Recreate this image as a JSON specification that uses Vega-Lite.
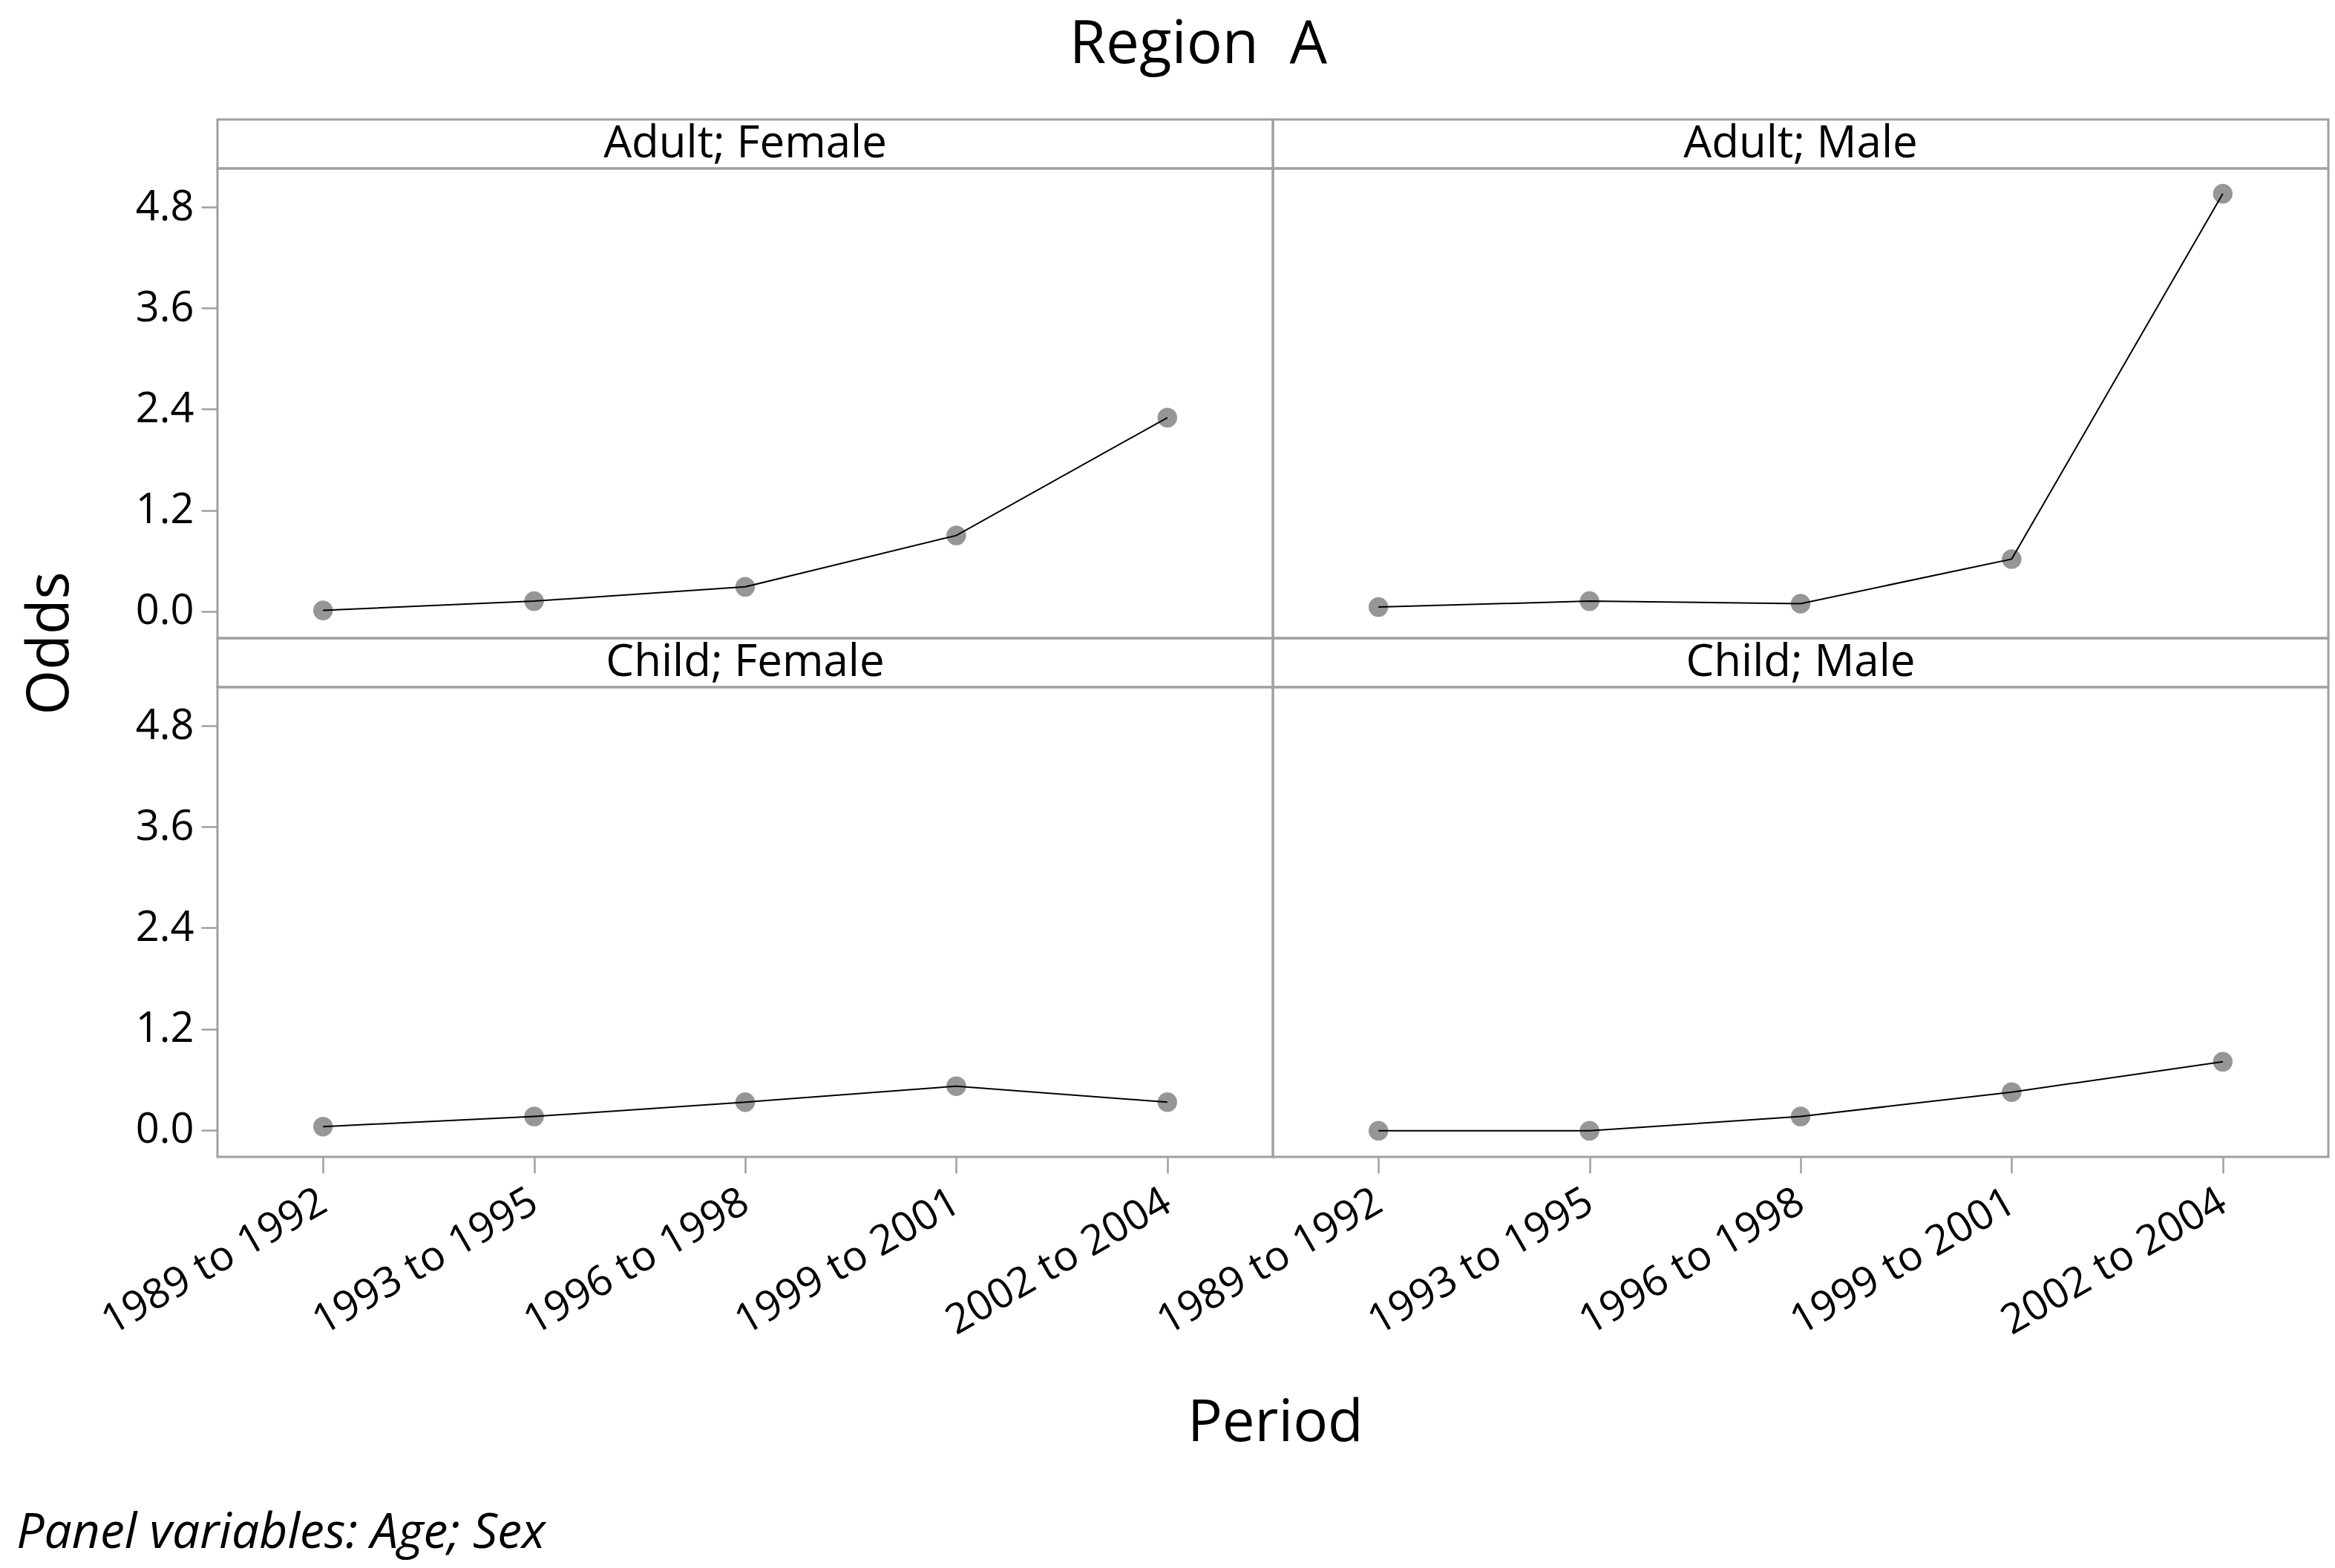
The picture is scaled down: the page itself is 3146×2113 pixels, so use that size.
{
  "$schema": "https://vega.github.io/schema/vega-lite/v6.json",
  "background": "white",
  "padding": {"left": 22, "top": 20, "right": 10, "bottom": 10},
  "config": {
    "font": "Open Sans",
    "view": {"stroke": "#a0a0a0", "strokeWidth": 3},
    "axis": {
      "domain": false,
      "grid": false,
      "ticks": true,
      "tickColor": "#a0a0a0",
      "tickWidth": 2.5,
      "tickSize": 22,
      "labelFont": "Open Sans",
      "labelFontSize": 56,
      "labelColor": "black",
      "labelPadding": 10,
      "labelLimit": 0
    },
    "title": {"font": "Open Sans", "color": "black", "fontWeight": "normal"}
  },
  "datasets": {
    "odds": [
      {"panel": "Adult; Female", "period": "1989 to 1992", "odds": 0.01},
      {"panel": "Adult; Female", "period": "1993 to 1995", "odds": 0.12},
      {"panel": "Adult; Female", "period": "1996 to 1998", "odds": 0.29},
      {"panel": "Adult; Female", "period": "1999 to 2001", "odds": 0.9},
      {"panel": "Adult; Female", "period": "2002 to 2004", "odds": 2.3},
      {"panel": "Adult; Male", "period": "1989 to 1992", "odds": 0.05},
      {"panel": "Adult; Male", "period": "1993 to 1995", "odds": 0.12},
      {"panel": "Adult; Male", "period": "1996 to 1998", "odds": 0.09},
      {"panel": "Adult; Male", "period": "1999 to 2001", "odds": 0.62},
      {"panel": "Adult; Male", "period": "2002 to 2004", "odds": 4.96},
      {"panel": "Child; Female", "period": "1989 to 1992", "odds": 0.04},
      {"panel": "Child; Female", "period": "1993 to 1995", "odds": 0.16},
      {"panel": "Child; Female", "period": "1996 to 1998", "odds": 0.33},
      {"panel": "Child; Female", "period": "1999 to 2001", "odds": 0.52},
      {"panel": "Child; Female", "period": "2002 to 2004", "odds": 0.33},
      {"panel": "Child; Male", "period": "1989 to 1992", "odds": -0.01},
      {"panel": "Child; Male", "period": "1993 to 1995", "odds": -0.01},
      {"panel": "Child; Male", "period": "1996 to 1998", "odds": 0.16},
      {"panel": "Child; Male", "period": "1999 to 2001", "odds": 0.45},
      {"panel": "Child; Male", "period": "2002 to 2004", "odds": 0.81}
    ],
    "panels": [
      {"panel": "Adult; Female"},
      {"panel": "Adult; Male"},
      {"panel": "Child; Female"},
      {"panel": "Child; Male"}
    ]
  },
  "title": {"text": "Region\u00a0 A", "fontSize": 80, "anchor": "middle", "offset": 58, "dx": 34},
  "vconcat": [
    {
      "title": {"text": "Panel variables: Age; Sex", "orient": "bottom", "anchor": "start", "fontSize": 66, "fontStyle": "italic", "offset": 76, "dx": -8},
      "vconcat": [
        {
          "title": {"text": "Period", "orient": "bottom", "anchor": "middle", "fontSize": 78, "offset": 70, "dx": 134},
          "vconcat": [
            {
              "title": {"text": "Odds", "orient": "left", "anchor": "middle", "fontSize": 78, "offset": 18, "dx": 118},
              "columns": 2,
              "spacing": 0,
              "bounds": "flush",
              "concat": [
                {
                  "width": 1422, "height": 66,
                  "data": {"name": "panels"},
                  "transform": [{"filter": "datum.panel === 'Adult; Female'"}],
                  "mark": {"type": "text", "fontSize": 60, "font": "Open Sans", "color": "black"},
                  "encoding": {
                    "x": {"field": "panel", "type": "nominal", "axis": null},
                    "y": {"field": "panel", "type": "nominal", "axis": null},
                    "text": {"field": "panel", "type": "nominal"}
                  }
                },
                {
                  "width": 1422, "height": 66,
                  "data": {"name": "panels"},
                  "transform": [{"filter": "datum.panel === 'Adult; Male'"}],
                  "mark": {"type": "text", "fontSize": 60, "font": "Open Sans", "color": "black"},
                  "encoding": {
                    "x": {"field": "panel", "type": "nominal", "axis": null},
                    "y": {"field": "panel", "type": "nominal", "axis": null},
                    "text": {"field": "panel", "type": "nominal"}
                  }
                },
                {
                  "width": 1422, "height": 633,
                  "data": {"name": "odds"},
                  "transform": [{"filter": "datum.panel === 'Adult; Female'"}],
                  "encoding": {
                    "x": {"field": "period", "type": "ordinal", "scale": {"type": "point", "padding": 0.5, "domain": ["1989 to 1992", "1993 to 1995", "1996 to 1998", "1999 to 2001", "2002 to 2004"]}, "axis": null},
                    "y": {"field": "odds", "type": "quantitative", "scale": {"domain": [-0.32, 5.26], "nice": false, "zero": false}, "axis": {"title": null, "values": [0, 1.2, 2.4, 3.6, 4.8], "format": ".1f"}}
                  },
                  "layer": [
                    {"mark": {"type": "point", "filled": true, "size": 700, "color": "#969696", "opacity": 1}},
                    {"mark": {"type": "line", "color": "black", "strokeWidth": 2}}
                  ]
                },
                {
                  "width": 1422, "height": 633,
                  "data": {"name": "odds"},
                  "transform": [{"filter": "datum.panel === 'Adult; Male'"}],
                  "encoding": {
                    "x": {"field": "period", "type": "ordinal", "scale": {"type": "point", "padding": 0.5, "domain": ["1989 to 1992", "1993 to 1995", "1996 to 1998", "1999 to 2001", "2002 to 2004"]}, "axis": null},
                    "y": {"field": "odds", "type": "quantitative", "scale": {"domain": [-0.32, 5.26], "nice": false, "zero": false}, "axis": null}
                  },
                  "layer": [
                    {"mark": {"type": "point", "filled": true, "size": 700, "color": "#969696", "opacity": 1}},
                    {"mark": {"type": "line", "color": "black", "strokeWidth": 2}}
                  ]
                },
                {
                  "width": 1422, "height": 66,
                  "data": {"name": "panels"},
                  "transform": [{"filter": "datum.panel === 'Child; Female'"}],
                  "mark": {"type": "text", "fontSize": 60, "font": "Open Sans", "color": "black"},
                  "encoding": {
                    "x": {"field": "panel", "type": "nominal", "axis": null},
                    "y": {"field": "panel", "type": "nominal", "axis": null},
                    "text": {"field": "panel", "type": "nominal"}
                  }
                },
                {
                  "width": 1422, "height": 66,
                  "data": {"name": "panels"},
                  "transform": [{"filter": "datum.panel === 'Child; Male'"}],
                  "mark": {"type": "text", "fontSize": 60, "font": "Open Sans", "color": "black"},
                  "encoding": {
                    "x": {"field": "panel", "type": "nominal", "axis": null},
                    "y": {"field": "panel", "type": "nominal", "axis": null},
                    "text": {"field": "panel", "type": "nominal"}
                  }
                },
                {
                  "width": 1422, "height": 633,
                  "data": {"name": "odds"},
                  "transform": [{"filter": "datum.panel === 'Child; Female'"}],
                  "encoding": {
                    "x": {"field": "period", "type": "ordinal", "scale": {"type": "point", "padding": 0.5, "domain": ["1989 to 1992", "1993 to 1995", "1996 to 1998", "1999 to 2001", "2002 to 2004"]}, "axis": {"title": null, "labelAngle": -30, "labelAlign": "right", "labelBaseline": "middle", "labelPadding": 34}},
                    "y": {"field": "odds", "type": "quantitative", "scale": {"domain": [-0.32, 5.26], "nice": false, "zero": false}, "axis": {"title": null, "values": [0, 1.2, 2.4, 3.6, 4.8], "format": ".1f"}}
                  },
                  "layer": [
                    {"mark": {"type": "point", "filled": true, "size": 700, "color": "#969696", "opacity": 1}},
                    {"mark": {"type": "line", "color": "black", "strokeWidth": 2}}
                  ]
                },
                {
                  "width": 1422, "height": 633,
                  "data": {"name": "odds"},
                  "transform": [{"filter": "datum.panel === 'Child; Male'"}],
                  "encoding": {
                    "x": {"field": "period", "type": "ordinal", "scale": {"type": "point", "padding": 0.5, "domain": ["1989 to 1992", "1993 to 1995", "1996 to 1998", "1999 to 2001", "2002 to 2004"]}, "axis": {"title": null, "labelAngle": -30, "labelAlign": "right", "labelBaseline": "middle", "labelPadding": 34}},
                    "y": {"field": "odds", "type": "quantitative", "scale": {"domain": [-0.32, 5.26], "nice": false, "zero": false}, "axis": null}
                  },
                  "layer": [
                    {"mark": {"type": "point", "filled": true, "size": 700, "color": "#969696", "opacity": 1}},
                    {"mark": {"type": "line", "color": "black", "strokeWidth": 2}}
                  ]
                }
              ]
            }
          ]
        }
      ]
    }
  ]
}
